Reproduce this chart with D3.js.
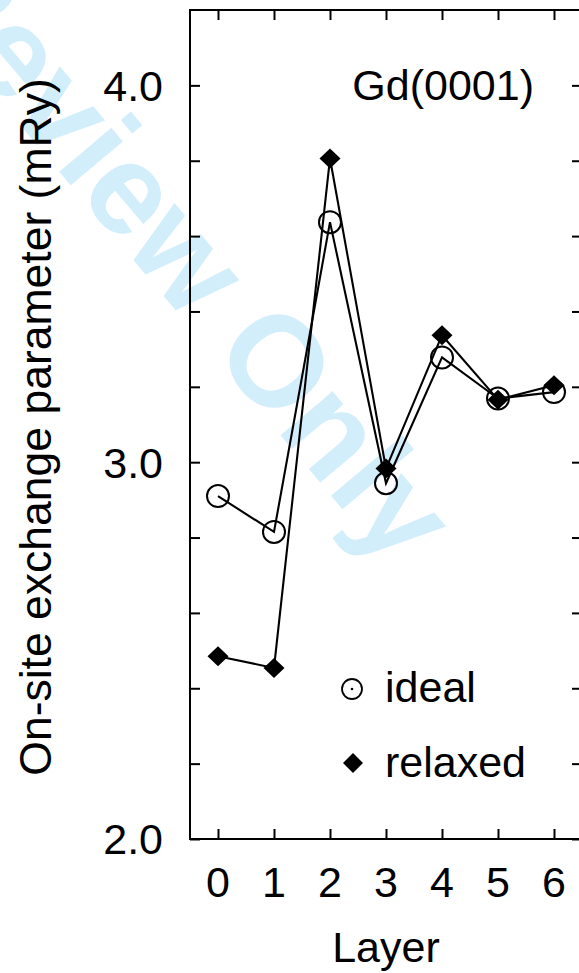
<!DOCTYPE html>
<html>
<head>
<meta charset="utf-8">
<script src="https://cdn.jsdelivr.net/npm/d3@7/dist/d3.min.js"></script>
<style>
  html, body { margin: 0; padding: 0; background: #fff; }
  svg { display: block; }
  text { font-family: "Liberation Sans", Arial, Helvetica, sans-serif; fill: #000; }
</style>
</head>
<body>
<svg id="chart" width="579" height="973"></svg>
<script>
// ---- data ----
const layers = [0, 1, 2, 3, 4, 5, 6];
const ideal = [2.910, 2.815, 3.637, 2.944, 3.278, 3.169, 3.186];
const relaxed = [2.485, 2.454, 3.806, 2.983, 3.337, 3.166, 3.204];
const yTickValues = [2.0, 2.2, 2.4, 2.6, 2.8, 3.0, 3.2, 3.4, 3.6, 3.8, 4.0];
const yTickLabels = ["2.0", "3.0", "4.0"];
const seriesNames = ["ideal", "relaxed"];
const panelTitle = "Gd(0001)";
const xTitle = "Layer";
const yTitle = "On-site exchange parameter (mRy)";
const watermark = "Review Only";

// ---- layout ----
const W = 579, H = 973;
const svg = d3.select("#chart");
const x = d3.scaleLinear().domain([-0.5, 6.5]).range([190, 582]);
const y = d3.scaleLinear().domain([2.0, 4.2]).range([839, 10]);
const FS = 43;

// watermark (behind), positioned so the "O" is centred at a given point
const WFS = 129;
const wm = svg.append("g").attr("transform", "translate(278,360) rotate(50)")
  .append("text")
  .style("font-size", WFS + "px")
  .style("font-weight", "bold")
  .style("fill", "#d3eefb")
  .text(watermark);
{
  const node = wm.node();
  const idx = watermark.indexOf("O");
  const before = node.getSubStringLength(0, idx);
  const oW = node.getSubStringLength(idx, 1);
  wm.attr("x", -(before + oW / 2)).attr("y", 0.36 * WFS);
}

// frame
const g = svg.append("g");
g.append("rect")
  .attr("x", x(-0.5)).attr("y", y(4.2))
  .attr("width", x(6.5) - x(-0.5)).attr("height", y(2.0) - y(4.2))
  .attr("fill", "none").attr("stroke", "#000").attr("stroke-width", 2);

const TL = 10;
// axes with inward ticks
const axLeft = d3.axisLeft(y).tickValues(yTickValues).tickSize(-TL).tickFormat("");
const axRight = d3.axisRight(y).tickValues(yTickValues).tickSize(-TL).tickFormat("");
const axBottom = d3.axisBottom(x).tickValues(layers).tickSize(-TL).tickFormat("");
const axTop = d3.axisTop(x).tickValues(layers).tickSize(-TL).tickFormat("");
function styleAx(sel) {
  sel.select(".domain").remove();
  sel.selectAll(".tick line").attr("stroke", "#000").attr("stroke-width", 2);
}
g.append("g").attr("transform", `translate(${x(-0.5)},0)`).call(axLeft).call(styleAx);
g.append("g").attr("transform", `translate(${x(6.5)},0)`).call(axRight).call(styleAx);
g.append("g").attr("transform", `translate(0,${y(2.0)})`).call(axBottom).call(styleAx);
g.append("g").attr("transform", `translate(0,${y(4.2)})`).call(axTop).call(styleAx);

// tick labels
g.selectAll(".ylab").data(yTickLabels).enter().append("text")
  .attr("x", 163).attr("y", d => y(+d)).attr("dy", "0.36em")
  .attr("text-anchor", "end").style("font-size", FS + "px").text(d => d);
g.selectAll(".xlab").data(layers).enter().append("text")
  .attr("x", d => x(d)).attr("y", 897)
  .attr("text-anchor", "middle").style("font-size", FS + "px").text(d => d);

// axis titles
svg.append("text").attr("x", (x(-0.5) + x(6.5)) / 2).attr("y", 962)
  .attr("text-anchor", "middle").style("font-size", FS + "px").text(xTitle);
svg.append("text").attr("transform", "translate(51,427) rotate(-90)")
  .attr("text-anchor", "middle").style("font-size", "44.5px").text(yTitle);

// panel title
svg.append("text").attr("x", 534).attr("y", 100)
  .attr("text-anchor", "end").style("font-size", FS + "px").text(panelTitle);

// lines
const line = d3.line().x((d, i) => x(layers[i])).y(d => y(d));
g.append("path").datum(ideal).attr("d", line)
  .attr("fill", "none").attr("stroke", "#000").attr("stroke-width", 2.1);
g.append("path").datum(relaxed).attr("d", line)
  .attr("fill", "none").attr("stroke", "#000").attr("stroke-width", 2.1);

// markers
const diamond = (cx, cy, hw, hh) => `M${cx},${cy - hh}L${cx + hw},${cy}L${cx},${cy + hh}L${cx - hw},${cy}Z`;
g.selectAll(".ci").data(ideal).enter().append("circle")
  .attr("cx", (d, i) => x(layers[i])).attr("cy", d => y(d)).attr("r", 11)
  .attr("fill", "none").attr("stroke", "#000").attr("stroke-width", 2);
g.selectAll(".di").data(relaxed).enter().append("path")
  .attr("d", (d, i) => diamond(x(layers[i]), y(d), 10.5, 10))
  .attr("fill", "#000");

// legend
const lg = svg.append("g");
lg.append("circle").attr("cx", 352).attr("cy", 689).attr("r", 10)
  .attr("fill", "none").attr("stroke", "#000").attr("stroke-width", 1.8);
lg.append("circle").attr("cx", 352).attr("cy", 689).attr("r", 1.3).attr("fill", "#000");
lg.append("text").attr("x", 385).attr("y", 702).style("font-size", FS + "px").text(seriesNames[0]);
lg.append("path").attr("d", diamond(353, 763, 10, 10)).attr("fill", "#000");
lg.append("text").attr("x", 385).attr("y", 777).style("font-size", FS + "px").text(seriesNames[1]);
</script>
</body>
</html>
